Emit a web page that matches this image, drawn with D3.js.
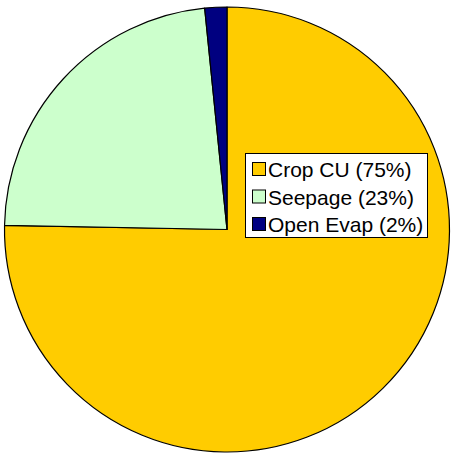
<!DOCTYPE html>
<html>
<head>
<meta charset="utf-8">
<script src="https://cdn.jsdelivr.net/npm/d3@7"></script>
<style>
  body { margin: 0; background: #fff; }
  svg { display: block; }
</style>
</head>
<body>
<svg id="chart" width="451" height="455"></svg>
<script>
// data
var categories = ["Crop CU", "Seepage", "Open Evap"];
var values = [75.3, 23.1, 1.6];
var labels = ["Crop CU (75%)", "Seepage (23%)", "Open Evap (2%)"];
var colors = ["#FFCC00", "#CCFFCC", "#000080"];

var svg = d3.select("#chart");
var cx = 227, cy = 229.5, r = 222.5;

var pie = d3.pie().sort(null).value(d => d.v);
var arc = d3.arc().innerRadius(0).outerRadius(r);
var color = d3.scaleOrdinal().domain(categories).range(colors);

var data = categories.map((c, i) => ({ name: c, v: values[i] }));

var g = svg.append("g").attr("transform", `translate(${cx},${cy})`);

g.selectAll("path")
    .data(pie(data))
    .join("path")
    .attr("d", arc)
    .attr("fill", d => color(d.data.name))
    .attr("stroke", "#000")
    .attr("stroke-width", 1.2)
    .attr("stroke-linejoin", "round");

// legend
var lg = svg.append("g").attr("transform", "translate(245.5,153.5)");
lg.append("rect")
    .attr("width", 182)
    .attr("height", 84)
    .attr("fill", "#fff")
    .attr("stroke", "#000")
    .attr("stroke-width", 1);

var row = lg.selectAll("g.row")
    .data(labels)
    .join("g")
    .attr("class", "row")
    .attr("transform", (d, i) => `translate(0,${16 + i * 27.5})`);

row.append("rect")
    .attr("x", 7)
    .attr("y", -7)
    .attr("width", 13)
    .attr("height", 13)
    .attr("fill", (d, i) => colors[i])
    .attr("stroke", "#000")
    .attr("stroke-width", 1);

row.append("text")
    .attr("x", 22.5)
    .attr("y", 0)
    .attr("dy", "0.36em")
    .style("font", "21px 'Liberation Sans', Arial, sans-serif")
    .text(d => d);
</script>
</body>
</html>
